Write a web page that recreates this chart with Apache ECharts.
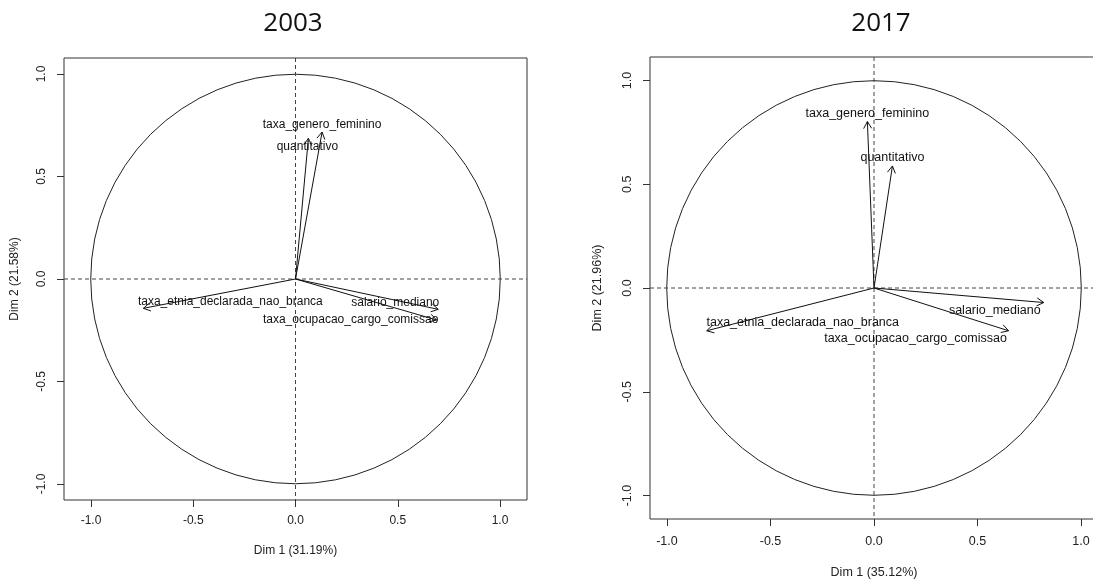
<!DOCTYPE html>
<html><head><meta charset="utf-8">
<script src="https://cdn.jsdelivr.net/npm/echarts@6/dist/echarts.min.js"></script>
<style>html,body{margin:0;padding:0;background:#fff}#c{width:1093px;height:582px}</style>
</head><body><div id="c"></div>
<script>
// ---- data ----
const variables = ['quantitativo', 'salario_mediano', 'taxa_genero_feminino', 'taxa_etnia_declarada_nao_branca', 'taxa_ocupacao_cargo_comissao'];
const dim1_2003 = [0.063, 0.698, 0.130, -0.744, 0.690];
const dim2_2003 = [0.686, -0.148, 0.717, -0.143, -0.200];
const dim1_2017 = [0.089, 0.820, -0.032, -0.808, 0.650];
const dim2_2017 = [0.588, -0.070, 0.802, -0.206, -0.206];
const tickValues = [-1, -0.5, 0, 0.5, 1];
const titles = ['2003', '2017'];
const dim1Names = ['Dim 1 (31.19%)', 'Dim 1 (35.12%)'];
const dim2Names = ['Dim 2 (21.58%)', 'Dim 2 (21.96%)'];

// ---- styling (label offsets in px, relative to arrow tips) ----
const labelOffsets = [
  [[-1, 8], [-43, -7], [0, -7], [87, -7], [-86, 0]],
  [[0, -8], [-49, 8], [0, -8], [96, -8], [-93, 8]]
];
const labelFont = ['12px "Liberation Sans", Arial, sans-serif', '12.5px "Liberation Sans", Arial, sans-serif'];

const chart = echarts.init(document.getElementById('c'), null, {renderer: 'canvas'});

function arrowSeries(g, xs, ys) {
  return {
    type: 'custom', xAxisIndex: g, yAxisIndex: g, silent: true, clip: false,
    data: xs.map((x, i) => [x, ys[i]]),
    renderItem(params, api) {
      const p0 = api.coord([0, 0]);
      const p1 = api.coord([api.value(0), api.value(1)]);
      const ang = Math.atan2(p1[1] - p0[1], p1[0] - p0[0]);
      const L = 8, a = Math.PI / 6;
      const h1 = [p1[0] - L * Math.cos(ang - a), p1[1] - L * Math.sin(ang - a)];
      const h2 = [p1[0] - L * Math.cos(ang + a), p1[1] - L * Math.sin(ang + a)];
      const off = labelOffsets[g][params.dataIndex];
      return {type: 'group', children: [
        {type: 'line', shape: {x1: p0[0], y1: p0[1], x2: p1[0], y2: p1[1]}, style: {stroke: '#111', lineWidth: 1}},
        {type: 'polyline', shape: {points: [h1, p1, h2]}, style: {stroke: '#111', fill: null, lineWidth: 1}},
        {type: 'text', x: p1[0] + off[0], y: p1[1] + off[1], style: {text: variables[params.dataIndex], align: 'center', verticalAlign: 'middle', font: labelFont[g], fill: '#111'}}
      ]};
    }
  };
}

function frameSeries(g) {
  return {
    type: 'custom', xAxisIndex: g, yAxisIndex: g, silent: true, clip: false,
    data: [[0, 0]],
    renderItem(params, api) {
      const c = api.coord([0, 0]);
      const s = api.size([1, 1]);
      const r = (s[0] + s[1]) / 2;
      const cs = params.coordSys;
      const dash = {stroke: '#444', lineWidth: 1, lineDash: [4, 3]};
      return {type: 'group', children: [
        {type: 'circle', shape: {cx: c[0], cy: c[1], r: r}, style: {stroke: '#222', fill: null, lineWidth: 1}},
        {type: 'line', shape: {x1: cs.x, y1: c[1], x2: cs.x + cs.width, y2: c[1]}, style: dash},
        {type: 'line', shape: {x1: c[0], y1: cs.y, x2: c[0], y2: cs.y + cs.height}, style: dash}
      ]};
    }
  };
}

const axisFont = {fontFamily: '"Liberation Sans", Arial, sans-serif', color: '#222'};
function xAx(g, lim, margin, nameGap, fs) {
  return {
    gridIndex: g, type: 'value', min: -lim, max: lim,
    splitLine: {show: false},
    axisLine: {show: false, onZero: false},
    axisTick: {show: true, length: 7, customValues: tickValues, lineStyle: {color: '#333'}},
    axisLabel: {customValues: tickValues, formatter: v => v.toFixed(1), margin: margin, fontSize: fs, ...axisFont},
    name: dim1Names[g], nameLocation: 'middle', nameGap: nameGap,
    nameTextStyle: {fontSize: fs, ...axisFont}
  };
}
function yAx(g, lim, margin, nameGap, fs) {
  return {
    gridIndex: g, type: 'value', min: -lim, max: lim,
    splitLine: {show: false},
    axisLine: {show: false, onZero: false},
    axisTick: {show: true, length: 7, customValues: tickValues, lineStyle: {color: '#333'}},
    axisLabel: {customValues: tickValues, formatter: v => v.toFixed(1), margin: margin, rotate: 90, fontSize: fs, ...axisFont},
    name: dim2Names[g], nameLocation: 'middle', nameGap: nameGap, nameRotate: 90,
    nameTextStyle: {fontSize: fs, ...axisFont}
  };
}

chart.setOption({
  animation: false,
  backgroundColor: '#fff',
  title: [
    {text: titles[0], left: 288, top: 6, textAlign: 'center', textStyle: {fontFamily: '"Open Sans", sans-serif', fontWeight: 'normal', fontSize: 26, color: '#111'}},
    {text: titles[1], left: 876, top: 6, textAlign: 'center', textStyle: {fontFamily: '"Open Sans", sans-serif', fontWeight: 'normal', fontSize: 26, color: '#111'}}
  ],
  grid: [
    {left: 64, top: 58, width: 463, height: 442, show: true, borderColor: '#333', borderWidth: 1, backgroundColor: 'transparent', outerBoundsMode: 'none', containLabel: false},
    {left: 650, top: 57, width: 448, height: 462, show: true, borderColor: '#333', borderWidth: 1, backgroundColor: 'transparent', outerBoundsMode: 'none', containLabel: false}
  ],
  xAxis: [xAx(0, 1.132, 15, 45, 12), xAx(1, 1.082, 16, 47, 12.5)],
  yAxis: [yAx(0, 1.078, 16, 43, 12), yAx(1, 1.113, 16, 46, 12.5)],
  series: [
    frameSeries(0), arrowSeries(0, dim1_2003, dim2_2003),
    frameSeries(1), arrowSeries(1, dim1_2017, dim2_2017)
  ]
});
</script>
</body></html>
